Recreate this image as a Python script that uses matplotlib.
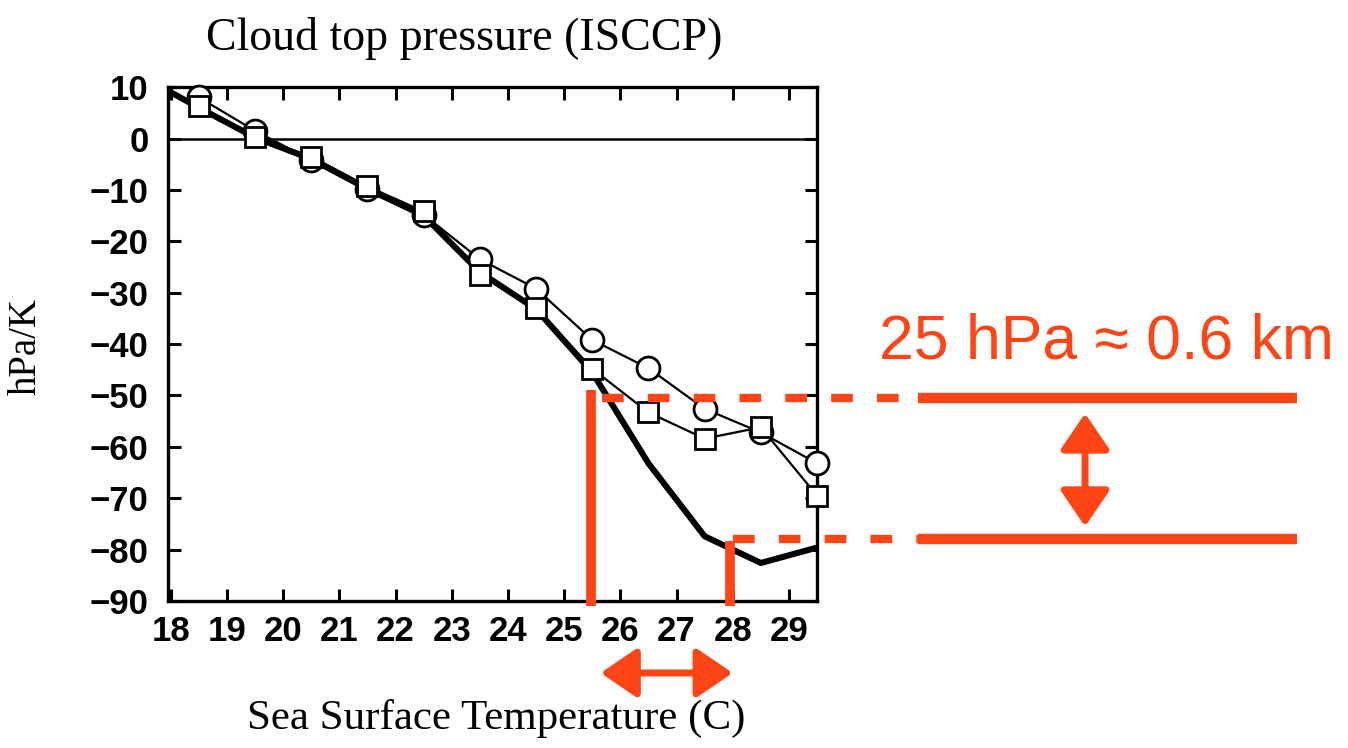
import numpy as np
import matplotlib.pyplot as plt

# SST bins (C) and cloud-top pressure sensitivity (hPa/K)
sst = [18.5, 19.5, 20.5, 21.5, 22.5, 23.5, 24.5, 25.5, 26.5, 27.5, 28.5, 29.5]
ctp_circles = [8, 1.5, -4.2, -9.8, -14.8, -23.5, -29.2, -39.2, -44.7, -52.6, -57.2, -63.2]
ctp_squares = [6.3, 0.3, -3.5, -9.3, -14.2, -26.6, -33, -44.8, -53.3, -58.4, -56.2, -69.5]

sst_thick = [17.5, 18.5, 19.5, 20.5, 21.5, 22.5, 23.5, 24.5, 25.5, 26.5, 27.5, 28.5, 29.5]
ctp_thick = [12, 6, 0.2, -4, -9.8, -15, -26, -33.2, -45.5, -63.2, -77.4, -82.6, -79.6]

# highlighted shift
sst_lo, sst_hi = 25.47, 27.95
p_hi, p_lo = -50.5, -78.0
label = "25 hPa \u2248 0.6 km"

orange = "#ff4416"
serif = ["Liberation Serif", "DejaVu Serif"]
sans = ["Liberation Sans", "DejaVu Sans"]

fig = plt.figure(figsize=(13.48, 7.48), dpi=100)
ax = fig.add_axes([0.1246, 0.1965, 0.4815, 0.687])

ax.plot(sst_thick, ctp_thick, color="black", lw=4.4, zorder=3)
ax.plot(sst, ctp_circles, color="black", lw=1.6, marker="o", ms=16.5,
        mfc="white", mec="black", mew=2, clip_on=False, zorder=4)
ax.plot(sst, ctp_squares, color="black", lw=1.6, marker="s", ms=14.5,
        mfc="white", mec="black", mew=2, clip_on=False, zorder=5)
ax.axhline(0, color="black", lw=1.8, zorder=2)

ax.set_xlim(17.95, 29.5)
ax.set_ylim(-90, 10)
ax.set_xticks(np.arange(18, 30))
ax.set_yticks(np.arange(-90, 11, 10))
ax.tick_params(direction="in", length=9, width=2.2, top=True, right=True,
               labelsize=25)
ax.tick_params(axis="y", pad=14)
ax.tick_params(axis="x", pad=10)
for lbl in ax.get_xticklabels() + ax.get_yticklabels():
    lbl.set_family(sans)
    lbl.set_fontweight("bold")
for sp in ax.spines.values():
    sp.set_linewidth(2.4)

fig.text(464 / 1348, 1 - 38 / 748, "Cloud top pressure (ISCCP)",
         family=serif, fontsize=33, ha="center", va="center")
fig.text(496 / 1348, 1 - 718 / 748, "Sea Surface Temperature (C)",
         family=serif, fontsize=31, ha="center", va="center")
fig.text(26 / 1348, 1 - 346 / 748, "hPa/K", family=serif, fontsize=28,
         rotation=90, ha="center", va="center")

# annotation: vertical markers at the two SSTs
ax.plot([sst_lo, sst_lo], [-91, p_hi + 1.5], color=orange, lw=7,
        solid_capstyle="butt", clip_on=False, zorder=6)
ax.plot([sst_hi, sst_hi], [-91, p_lo - 0.3], color=orange, lw=7,
        solid_capstyle="butt", clip_on=False, zorder=6)

# dashed then solid horizontal levels
dash_end, solid_start, solid_end = 31.4, 31.3, 38.05
for x0, y in [(sst_lo + 0.2, p_hi), (sst_hi + 0.05, p_lo)]:
    ax.plot([x0, dash_end], [y, y], color=orange, lw=6,
            ls=(0, (2.6, 2.9)), dash_capstyle="butt", clip_on=False, zorder=6)
    ax.plot([solid_start, solid_end], [y, y], color=orange, lw=7.5,
            solid_capstyle="butt", clip_on=False, zorder=6)

arrow = dict(arrowstyle="<|-|>,head_length=2.2,head_width=1.5",
             color=orange, lw=5, shrinkA=0, shrinkB=0)
ax.annotate("", xy=(34.27, -53.5), xytext=(34.27, -75.5),
            arrowprops=arrow, annotation_clip=False)
ax.annotate("", xy=(25.65, -104), xytext=(28.0, -104),
            arrowprops=arrow, annotation_clip=False)

ax.text(34.66, -39.5, label, color=orange, family=sans, fontsize=45,
        ha="center", va="center", clip_on=False)

fig.savefig("out.png", dpi=100)
